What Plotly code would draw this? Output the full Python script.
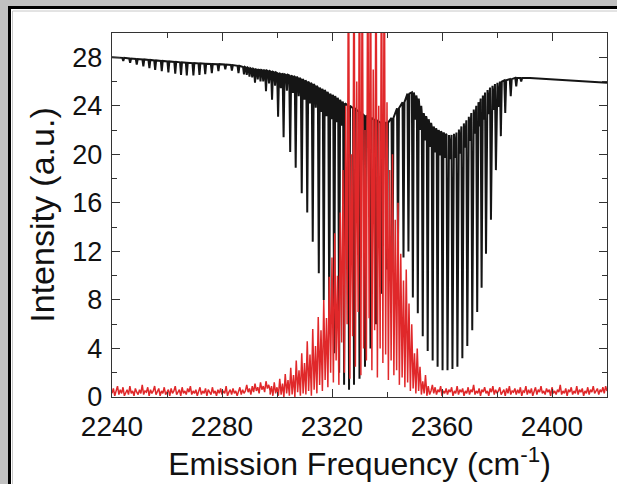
import numpy as np
import plotly.graph_objects as go

# ---------------- data ----------------
# Black trace: absorption lines (position, local top of envelope, dip minimum)
band1_pos = [2244.1, 2246.6, 2249.0, 2251.4, 2253.6, 2255.7, 2258.1, 2260.5, 2263.0, 2265.1,
             2267.2, 2269.6, 2271.8, 2273.9, 2276.3, 2278.7, 2281.2, 2283.6, 2286.0]
band1_top = [27.95, 27.9, 27.86, 27.82, 27.78, 27.74, 27.7, 27.66, 27.62, 27.58,
             27.55, 27.52, 27.5, 27.47, 27.45, 27.43, 27.4, 27.36, 27.3]
band1_min = [27.7, 27.55, 27.4, 27.25, 27.1, 26.95, 26.85, 26.75, 26.65, 26.55,
             26.5, 26.5, 26.55, 26.6, 26.7, 26.85, 27.0, 26.9, 26.7]

pbranch_pos = [2288.0, 2290.0, 2292.0, 2294.0, 2296.0, 2298.2, 2300.4, 2302.4, 2304.8, 2306.8,
               2309.0, 2311.0, 2313.0, 2315.2, 2317.0, 2319.0, 2320.8, 2322.6, 2324.4, 2326.2,
               2328.0, 2330.0, 2332.0, 2334.0, 2336.0, 2338.0, 2340.0, 2342.0, 2344.0, 2346.0,
               2347.8]
pbranch_top = [27.2, 27.1, 27.0, 26.95, 26.9, 26.8, 26.7, 26.6, 26.5, 26.4,
               26.2, 26.0, 25.8, 25.5, 25.3, 25.0, 24.8, 24.5, 24.2, 24.0,
               23.8, 23.5, 23.2, 23.0, 22.8, 22.6, 22.6, 23.0, 23.8, 24.3,
               25.0]
pbranch_min = [26.6, 26.4, 25.9, 26.0, 25.2, 24.5, 23.1, 21.4, 20.2, 18.9,
               16.8, 15.2, 12.8, 10.2, 8.0, 5.8, 3.6, 2.0, 1.0, 0.6,
               1.0, 1.5, 2.5, 4.0, 6.0, 8.5, 10.5, 10.4, 11.8, 11.5,
               12.0]

rbranch_pos = [2349.4, 2351.2, 2353.0, 2354.8, 2356.6, 2358.4, 2360.2, 2362.0, 2363.8, 2365.6,
               2367.4, 2369.2, 2371.0, 2372.8, 2374.4, 2376.0, 2377.8, 2379.6, 2381.4, 2383.0,
               2385.0, 2387.0, 2388.8]
rbranch_top = [25.1, 24.6, 23.4, 22.9, 22.3, 22.0, 21.8, 21.6, 21.6, 21.8,
               22.3, 22.8, 23.4, 24.0, 24.6, 25.1, 25.5, 25.8, 26.0, 26.1,
               26.2, 26.3, 26.3]
rbranch_min = [8.2, 6.9, 5.0, 3.8, 3.0, 2.5, 2.2, 2.2, 2.3, 2.5,
               3.2, 4.2, 5.5, 7.0, 9.0, 11.8, 14.6, 18.7, 21.5, 23.4,
               24.8, 25.6, 26.0]

# weaker lines lying between the strong ones (the dark upper edge of the spectrum)
weak_pos = [2289.0, 2291.0, 2293.0, 2295.0, 2297.1, 2299.3, 2301.4, 2303.6, 2305.8, 2307.9,
            2310.0, 2312.0, 2314.1, 2316.1, 2318.0, 2319.9, 2321.7, 2323.5,
            2350.3, 2352.1, 2353.9, 2355.7, 2357.5, 2359.3, 2361.1, 2362.9, 2364.7, 2366.5,
            2368.3, 2370.1, 2371.9, 2373.6, 2375.2, 2376.9, 2378.7, 2380.5]
weak_top = [27.15, 27.05, 26.97, 26.92, 26.85, 26.75, 26.65, 26.55, 26.45, 26.3,
            26.1, 25.9, 25.65, 25.4, 25.15, 24.9, 24.65, 24.35,
            24.85, 24.0, 23.15, 22.6, 22.15, 21.9, 21.7, 21.6, 21.7, 22.05,
            22.55, 23.1, 23.7, 24.3, 24.85, 25.3, 25.65, 25.9]
weak_min = [26.55, 26.35, 26.17, 26.02, 25.85, 25.65, 25.45, 25.25, 25.05, 24.8,
            24.5, 24.2, 23.85, 23.5, 23.15, 22.9, 22.65, 22.35,
            22.85, 22.0, 21.15, 20.6, 20.15, 19.9, 19.7, 19.6, 19.7, 20.05,
            20.55, 21.1, 21.7, 22.3, 22.85, 23.3, 23.65, 23.9]

black_start = (2240.0, 28.0)
black_tail_x = [2392.0, 2400.0, 2410.0, 2420.0]
black_tail_y = [26.3, 26.2, 26.05, 25.9]

# Red trace: noise floor left/right of the band (sampled every 0.5 cm-1), spikes inside it
red_noise_step = 0.5
red_left_start = 2240.0
red_left_y = [0.3, 0.7, 0.1, 0.5, 0.9, 0.2, 0.6, 0.3, 0.8, 0.1, 0.4, 0.6, 0.2, 0.9, 0.3, 0.5, 0.1, 0.7, 0.4, 0.2,
              0.6, 0.3, 1.0, 0.2, 0.5, 0.4, 0.8, 0.1, 0.6, 0.3, 0.5, 0.9, 0.2, 0.4, 0.7, 0.1, 0.5, 0.3, 0.8, 0.2,
              0.4, 0.6, 0.1, 0.7, 0.3, 0.5, 0.9, 0.2, 0.4, 0.6, 0.1, 0.8, 0.3, 0.5, 0.2, 0.7, 0.4, 0.9, 0.2, 0.5,
              0.3, 0.6, 0.1, 0.4, 0.8, 0.2, 0.5, 0.3, 0.7, 0.1, 0.6, 0.4, 0.2, 0.8, 0.3, 0.5, 0.1, 0.6, 0.3, 0.7,
              0.2, 0.5, 0.3, 0.9, 0.1, 0.4, 0.6, 0.2, 0.7, 0.3, 0.5, 0.1, 0.4, 0.8, 0.2, 0.6, 0.3, 0.5, 1.0, 0.4,
              0.7, 0.2, 0.9, 0.4, 1.1, 0.5, 0.8, 0.3, 1.2, 0.6, 0.9, 0.4, 1.3, 0.7, 1.0, 0.5]
red_peak_start = 2298.0
red_peak_y = [0.9, 1.2, 0.8, 1.5, 1.1, 1.9, 1.4, 2.4, 1.8, 3.0,
              2.2, 3.6, 2.8, 4.6, 3.5, 5.6, 4.2, 6.6, 5.5, 8.0,
              6.5, 9.9, 11.5, 13.5, 10.0, 15.2, 18.7, 24.0, 40.0, 20.0,
              40.0, 26.0, 40.0, 40.0, 22.0, 40.0, 40.0, 27.0, 40.0, 24.0,
              40.0, 40.0, 24.3, 18.7, 20.0, 14.6, 16.0, 11.8, 9.6, 10.5,
              7.7, 6.0, 3.6, 4.0, 2.5, 1.3, 1.8, 0.9]
red_trough_y = [0.2, 0.1, 0.3, 0.1, 0.2, 0.0, 0.3, 0.1, 0.2, 0.0,
                0.4, 0.1, 0.3, 0.2, 0.5, 0.1, 0.6, 0.3, 1.0, 0.5,
                1.4, 0.8, 2.0, 1.2, 3.0, 1.0, 4.5, 2.0, 6.0, 1.5,
                5.0, 2.5, 7.0, 1.8, 4.0, 3.0, 6.5, 2.2, 5.5, 1.6,
                4.0, 2.8, 3.5, 1.4, 3.0, 1.8, 2.2, 1.0, 1.6, 0.8,
                1.2, 0.5, 0.7, 0.3, 0.5, 0.2, 0.3, 0.1, 0.2]
red_right_start = 2356.0
red_right_y = [0.5, 1.0, 0.3, 0.8, 0.2, 0.6, 0.4, 0.9, 0.1, 0.5, 0.3, 0.7, 0.2, 0.6, 0.4, 0.8, 0.1, 0.5, 0.3, 0.9,
               0.2, 0.6, 0.4, 0.7, 0.1, 0.5, 0.3, 0.8, 0.2, 0.6, 0.4, 1.0, 0.2, 0.5, 0.3, 0.7, 0.1, 0.6, 0.4, 0.8,
               0.3, 0.5, 0.1, 0.7, 0.4, 0.9, 0.2, 0.6, 0.3, 0.5, 0.8, 0.2, 0.4, 0.6, 0.1, 0.7, 0.3, 0.9, 0.2, 0.5,
               0.4, 0.7, 0.2, 0.6, 0.3, 0.8, 0.1, 0.5, 0.4, 0.9, 0.2, 0.6, 0.3, 0.7, 0.1, 0.5, 0.8, 0.2, 0.6, 0.4,
               0.9, 0.3, 0.5, 0.2, 0.7, 0.4, 0.6, 0.1, 0.8, 0.3, 0.5, 0.2, 0.6, 0.4, 1.0, 0.2, 0.5, 0.3, 0.7, 0.1,
               0.6, 0.4, 0.8, 0.2, 0.5, 0.3, 0.9, 0.2, 0.6, 0.4, 0.7, 0.1, 0.5, 0.3, 0.8, 0.2, 0.6, 0.4, 0.9, 0.3,
               0.5, 0.7, 0.2, 0.6, 0.4, 0.8, 0.3, 0.9, 0.5]

x_ticks = [2240, 2280, 2320, 2360, 2400]
y_ticks = [0, 4, 8, 12, 16, 20, 24, 28]

# ---------------- build traces ----------------
LINE_HALF = 0.35  # half width of a drawn absorption dip (cm^-1)

lines = sorted(zip(band1_pos + pbranch_pos + rbranch_pos + weak_pos,
                   band1_top + pbranch_top + rbranch_top + weak_top,
                   band1_min + pbranch_min + rbranch_min + weak_min))
bx, by = [black_start[0]], [black_start[1]]
for pos, top, mn in lines:
    bx += [pos - LINE_HALF, pos, pos + LINE_HALF]
    by += [top, mn, top]
bx += black_tail_x
by += black_tail_y

rx, ry = [], []
for i, v in enumerate(red_left_y):
    rx.append(red_left_start + i * red_noise_step)
    ry.append(v)
for i, t in enumerate(red_trough_y):
    rx.append(red_peak_start - 0.5 + i)
    ry.append(t)
    if i < len(red_peak_y):
        rx.append(red_peak_start + i)
        ry.append(red_peak_y[i])
for i, v in enumerate(red_right_y):
    rx.append(red_right_start + i * red_noise_step)
    ry.append(v)

FONT = "Liberation Sans, Arial, sans-serif"

fig = go.Figure()
fig.add_trace(go.Scatter(x=bx, y=by, mode="lines",
                         line=dict(color="#151515", width=2.0), showlegend=False))
fig.add_trace(go.Scatter(x=rx, y=ry, mode="lines",
                         line=dict(color="#e0282a", width=1.5), showlegend=False))

axis_common = dict(showline=True, linecolor="#333333", linewidth=1.4, mirror="ticks",
                   ticks="inside", ticklen=8, tickwidth=1.3, tickcolor="#333333",
                   showgrid=False, zeroline=False)

fig.update_xaxes(range=[2240, 2420], tickvals=x_ticks, ticklabelstandoff=4,
                 tickfont=dict(family=FONT, size=28, color="#111111"),
                 minor=dict(ticks="inside", ticklen=5, dtick=20, tick0=2240, tickcolor="#333333"),
                 title=dict(text="Emission Frequency (cm<sup>-1</sup>)",
                            font=dict(family=FONT, size=32, color="#111111"), standoff=0),
                 **axis_common)
fig.update_yaxes(range=[0, 30], tickvals=y_ticks, ticklabelstandoff=3,
                 tickfont=dict(family=FONT, size=27, color="#111111"),
                 minor=dict(ticks="inside", ticklen=5, dtick=2, tick0=0, tickcolor="#333333"),
                 title=dict(text="Intensity (a.u.)",
                            font=dict(family=FONT, size=34, color="#111111"), standoff=7),
                 **axis_common)

# outer frame (gray surround, black border, faint inner line)
W, H = 617, 484
L, R, T, B = 112, 10, 33, 87
pw, ph = W - L - R, H - T - B
def px_x(p):
    return (p - L) / pw
def px_y(p):
    return (H - B - p) / ph

fig.add_shape(type="rect", xref="paper", yref="paper",
              x0=px_x(9.5), x1=px_x(660), y0=px_y(540), y1=px_y(7.5),
              line=dict(color="black", width=3), fillcolor="white", layer="below")
fig.add_shape(type="rect", xref="paper", yref="paper",
              x0=px_x(12.5), x1=px_x(660), y0=px_y(540), y1=px_y(11),
              line=dict(color="#c8c8c8", width=1), fillcolor="rgba(0,0,0,0)", layer="below")

fig.update_layout(width=W, height=H, margin=dict(l=L, r=R, t=T, b=B, autoexpand=False),
                  paper_bgcolor="#c0c0c0", plot_bgcolor="white",
                  font=dict(family=FONT))

fig.write_html("out.html")
